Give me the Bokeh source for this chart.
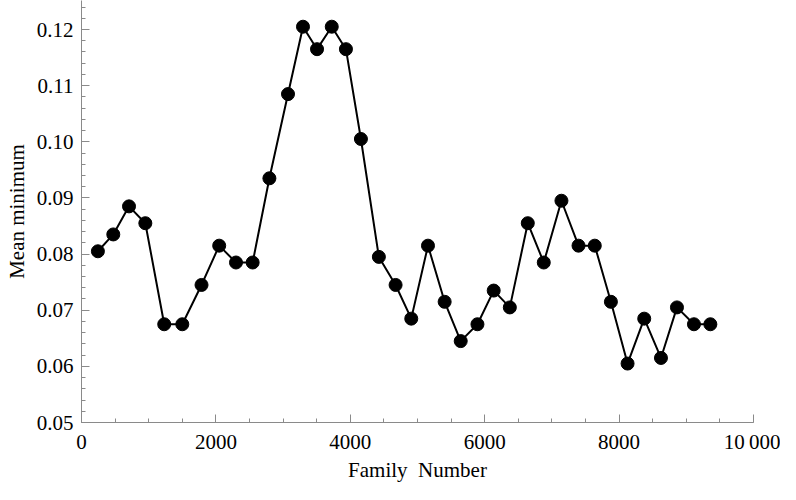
from bokeh.plotting import figure
from bokeh.models import Range1d, FixedTicker, NumeralTickFormatter, CustomJSTickFormatter
from bokeh.embed import file_html
from bokeh.resources import INLINE

family_number = [244, 473, 707, 950, 1231, 1500, 1786, 2049, 2299, 2547,
                 2796, 3073, 3296, 3505, 3724, 3935, 4158, 4425, 4674, 4907,
                 5156, 5404, 5643, 5892, 6134, 6374, 6641, 6879, 7142, 7396,
                 7638, 7878, 8126, 8374, 8623, 8861, 9114, 9358]
mean_minimum = [0.0805, 0.0835, 0.0885, 0.0855, 0.0675, 0.0675, 0.0745, 0.0815, 0.0785, 0.0785,
                0.0935, 0.1085, 0.1205, 0.1165, 0.1205, 0.1165, 0.1005, 0.0795, 0.0745, 0.0685,
                0.0815, 0.0715, 0.0645, 0.0675, 0.0735, 0.0705, 0.0855, 0.0785, 0.0895, 0.0815,
                0.0815, 0.0715, 0.0605, 0.0685, 0.0615, 0.0705, 0.0675, 0.0675]

x_ticks = [0, 2000, 4000, 6000, 8000, 10000]
y_ticks = [0.05, 0.06, 0.07, 0.08, 0.09, 0.10, 0.11, 0.12]
x_label = "Family\u00a0 Number"
y_label = "Mean minimum"

FONT = "Liberation Serif"
GRAY = "#8a8a8a"

p = figure(width=780, height=484, output_backend="svg", toolbar_location=None,
           x_range=Range1d(0, 10000), y_range=Range1d(0.05, 0.12517),
           min_border_left=81, min_border_right=27, min_border_top=0, min_border_bottom=62)
p.outline_line_color = None
p.xgrid.visible = False
p.ygrid.visible = False
p.background_fill_color = "white"
p.border_fill_color = "white"

p.line(family_number, mean_minimum, line_color="black", line_width=2)
p.scatter(family_number, mean_minimum, size=13, fill_color="black", line_color="black")

xa = p.xaxis[0]
xa.ticker = FixedTicker(ticks=x_ticks, minor_ticks=list(range(0, 10001, 500)))
xa.formatter = CustomJSTickFormatter(code="return tick >= 10000 ? '10\u2009000' : tick.toFixed(0);")
ya = p.yaxis[0]
ya.ticker = FixedTicker(ticks=y_ticks, minor_ticks=[round(0.05 + 0.002 * i, 3) for i in range(38)])
ya.formatter = NumeralTickFormatter(format="0.00")

for ax in (xa, ya):
    ax.axis_line_color = GRAY
    ax.axis_line_width = 1
    ax.major_tick_line_color = GRAY
    ax.minor_tick_line_color = GRAY
    ax.major_tick_in = 8
    ax.major_tick_out = 0
    ax.minor_tick_in = 4
    ax.minor_tick_out = 0
    ax.major_label_text_font = FONT
    ax.major_label_text_font_size = "21px"
    ax.major_label_text_color = "black"
    ax.axis_label_text_font = FONT
    ax.axis_label_text_font_size = "21px"
    ax.axis_label_text_font_style = "normal"
    ax.axis_label_text_color = "black"

xa.axis_label = x_label
xa.major_label_standoff = 7
xa.axis_label_standoff = 1
ya.axis_label = y_label
ya.major_label_standoff = 8
ya.axis_label_standoff = 5

open("out.html", "w").write(file_html(p, INLINE))
